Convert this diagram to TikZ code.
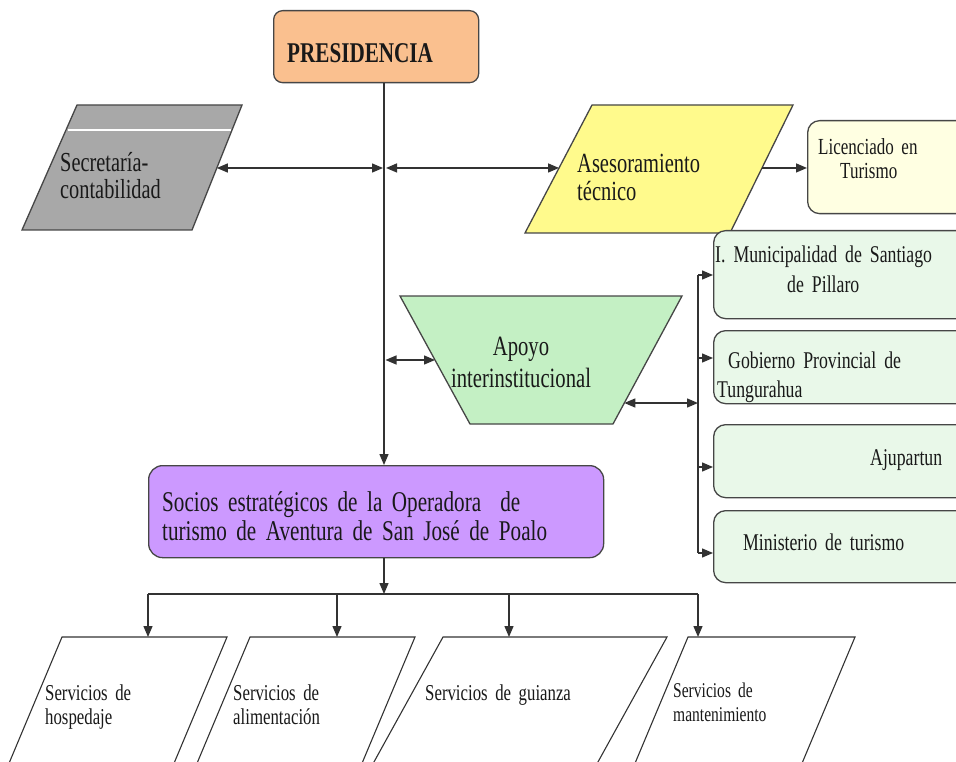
\documentclass[tikz,border=0pt]{standalone}
\usepackage{fontspec}
\setmainfont{Liberation Serif}[FakeStretch=0.74]
\usetikzlibrary{arrows.meta,calc}
\definecolor{edgec}{RGB}{70,70,70}
\definecolor{linec}{RGB}{50,50,50}
\definecolor{txtc}{RGB}{25,25,25}
\definecolor{presfill}{RGB}{250,192,143}
\definecolor{secfill}{RGB}{168,168,168}
\definecolor{asefill}{RGB}{255,250,140}
\definecolor{licfill}{RGB}{255,255,226}
\definecolor{grnfill}{RGB}{233,248,233}
\definecolor{apofill}{RGB}{196,240,196}
\definecolor{socfill}{RGB}{204,153,255}
\newcommand\myfs[2]{\fontsize{#1}{#2}\selectfont\spaceskip=0.22em plus 0.05em minus 0.03em\relax}
\begin{document}
\begin{tikzpicture}[x=1pt,y=-1pt,
  shp/.style={draw=edgec,line width=1.3pt},
  wshp/.style={draw=black!80,line width=1.1pt,fill=white},
  box/.style={shp,inner sep=0pt,anchor=north west},
  conn/.style={draw=linec,line width=1.4pt},
  arr/.style={conn,-{Triangle[length=11pt,width=9pt]}},
  darr/.style={conn,{Triangle[length=11pt,width=9pt]}-{Triangle[length=11pt,width=9pt]}},
  txt/.style={inner sep=0pt,anchor=base west,align=left,text width=520pt,text=txtc}]
\useasboundingbox (0,0) rectangle (956,762);
\clip (0,0) rectangle (956,762);
\coordinate (mx) at (384,0);
\coordinate (bx) at (698,0);
% PRESIDENCIA
\node[box,fill=presfill,rounded corners=9pt,minimum width=205pt,minimum height=72pt] (pres) at (273,10) {};
\node[txt,font=\bfseries\myfs{28.6}{28}] (prestxt) at (287,63) {PRESIDENCIA};
% Secretaria
\coordinate (sec1) at (77,105); \coordinate (sec2) at (242,105);
\coordinate (sec3) at (192,230); \coordinate (sec4) at (22,230);
\draw[shp,fill=secfill] (sec1) -- (sec2) -- (sec3) -- (sec4) -- cycle;
\draw[white,line width=2.5pt,shorten <=1.5pt,shorten >=1.5pt] ($(sec1)!0.2!(sec4)$) -- ($(sec2)!0.2!(sec3)$);
\node[txt,font=\myfs{27.5}{27}] (sectxt) at (60,172) {Secretaría-\\contabilidad};
% Asesoramiento
\coordinate (ase1) at (592,105); \coordinate (ase2) at (793,105);
\coordinate (ase3) at (730,233); \coordinate (ase4) at (525,233);
\draw[shp,fill=asefill] (ase1) -- (ase2) -- (ase3) -- (ase4) -- cycle;
\node[txt,font=\myfs{27.7}{28}] (asetxt) at (577,173) {Asesoramiento\\técnico};
% Licenciado
\node[box,fill=licfill,rounded corners=12pt,minimum width=180pt,minimum height=93pt] (lic) at (807,120) {};
\node[txt,font=\myfs{23}{24}] (lictxt) at (818,155) {Licenciado en\\\hspace*{22pt}Turismo};
% green boxes
\node[box,fill=grnfill,rounded corners=12pt,minimum width=270pt,minimum height=88pt] (g1) at (713,230) {};
\node[box,fill=grnfill,rounded corners=12pt,minimum width=270pt,minimum height=73pt] (g2) at (713,330) {};
\node[box,fill=grnfill,rounded corners=12pt,minimum width=270pt,minimum height=73pt] (g3) at (713,424) {};
\node[box,fill=grnfill,rounded corners=12pt,minimum width=270pt,minimum height=72pt] (g4) at (713,510) {};
\node[txt,font=\myfs{24}{30}] (g1txt) at (715,262) {I. Municipalidad de Santiago\\\hspace*{72pt}de Pillaro};
\node[txt,font=\myfs{24}{29}] (g2txt) at (717,368) {\hspace*{11pt}Gobierno Provincial de\\Tungurahua};
\node[txt,font=\myfs{24}{29}] (g3txt) at (870,465) {Ajupartun};
\node[txt,font=\myfs{24}{29}] (g4txt) at (743,550) {Ministerio de turismo};
% Apoyo
\coordinate (apo1) at (400,296); \coordinate (apo2) at (682,296);
\coordinate (apo3) at (613,424); \coordinate (apo4) at (470,424);
\draw[shp,fill=apofill] (apo1) -- (apo2) -- (apo3) -- (apo4) -- cycle;
\node[txt,align=center,anchor=base,text width=220pt,font=\myfs{27.9}{32}] (apotxt) at (521,355) {Apoyo\\interinstitucional};
% Socios
\node[box,fill=socfill,rounded corners=14pt,minimum width=455pt,minimum height=92pt] (soc) at (148,465) {};
\node[txt,font=\myfs{28.6}{29}] (soctxt) at (162,511) {Socios estratégicos de la Operadora~ de\\turismo de Aventura de San José de Poalo};
% bottom parallelograms
\coordinate (s1a) at (62,637); \coordinate (s1b) at (227,637); \coordinate (s1c) at (167,780); \coordinate (s1d) at (2,780);
\coordinate (s2a) at (250,637); \coordinate (s2b) at (415,637); \coordinate (s2c) at (355,780); \coordinate (s2d) at (190,780);
\coordinate (s3a) at (443,637); \coordinate (s3b) at (667,637); \coordinate (s3c) at (588,780); \coordinate (s3d) at (364,780);
\coordinate (s4a) at (688,637); \coordinate (s4b) at (855,637); \coordinate (s4c) at (795,780); \coordinate (s4d) at (628,780);
\draw[wshp] (s1a) -- (s1b) -- (s1c) -- (s1d) -- cycle;
\draw[wshp] (s2a) -- (s2b) -- (s2c) -- (s2d) -- cycle;
\draw[wshp] (s3a) -- (s3b) -- (s3c) -- (s3d) -- cycle;
\draw[wshp] (s4a) -- (s4b) -- (s4c) -- (s4d) -- cycle;
\node[txt,font=\myfs{22.7}{24}] (s1txt) at (45,700) {Servicios de\\hospedaje};
\node[txt,font=\myfs{22.7}{24}] (s2txt) at (233,700) {Servicios de\\alimentación};
\node[txt,font=\myfs{22.7}{24}] (s3txt) at (425,700) {Servicios de guianza};
\node[txt,font=\myfs{21}{24}] (s4txt) at (673,697) {Servicios de\\mantenimiento};
% connectors
\draw[arr] (pres.south -| mx) -- (soc.north -| mx);
\coordinate (secR) at ($(sec2)!0.504!(sec3)$);
\coordinate (aseL) at ($(ase1)!0.492!(ase4)$);
\coordinate (aseR) at ($(ase2)!0.492!(ase3)$);
\draw[darr] (secR) -- ($(secR -| mx)+(-1,0)$);
\draw[darr] ($(aseL -| mx)+(2,0)$) -- (aseL);
\draw[arr] (aseR) -- (aseR -| lic.west);
\coordinate (apoL) at ($(apo1)!0.5!(apo4)$);
\coordinate (apoR) at ($(apo2)!0.836!(apo3)$);
\draw[darr] ($(apoL -| mx)+(1.5,0)$) -- (apoL);
\draw[darr] (apoR) -- (apoR -| bx);
\coordinate (b1) at (698,275); \coordinate (b2) at (698,358);
\coordinate (b3) at (698,467); \coordinate (b4) at (698,553);
\draw[conn] (b1) -- (b4);
\draw[arr] (b1) -- (b1 -| g1.west);
\draw[arr] (b2) -- (b2 -| g2.west);
\draw[arr] (b3) -- (b3 -| g3.west);
\draw[arr] (b4) -- (b4 -| g4.west);
\coordinate (barL) at (148,594); \coordinate (barR) at (698,594);
\draw[arr] (soc.south -| mx) -- (barL -| mx);
\draw[conn] (barL) -- (barR);
\draw[arr] (barL) -- (barL |- s1a);
\draw[arr] (barL -| 337,0) -- (s1a -| 337,0);
\draw[arr] (barL -| 509,0) -- (s1a -| 509,0);
\draw[arr] (barR) -- (barR |- s4a);
\end{tikzpicture}
\end{document}
